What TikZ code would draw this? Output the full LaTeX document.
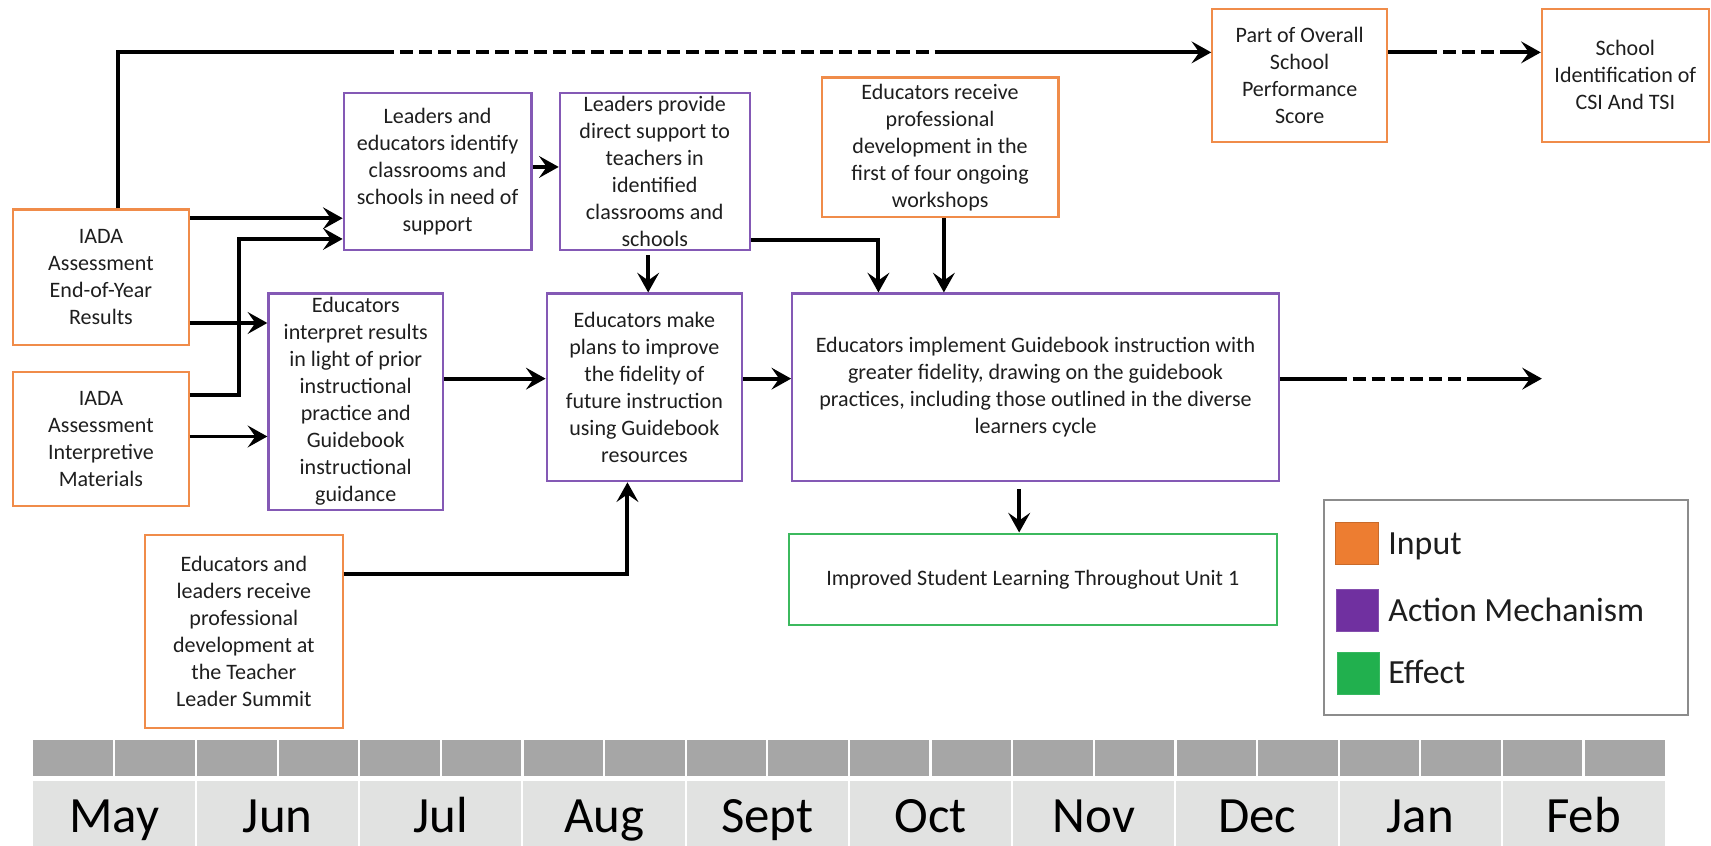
\documentclass[tikz,border=0pt]{standalone}
\usepackage{fontspec}
\setmainfont{Carlito}
\usetikzlibrary{arrows.meta}

\definecolor{inorange}{HTML}{F08C4A}
\definecolor{actpurple}{HTML}{8459B5}
\definecolor{effgreen}{HTML}{3CB95E}
\definecolor{keyorange}{HTML}{ED7D31}
\definecolor{keypurple}{HTML}{7030A0}
\definecolor{keygreen}{HTML}{21B04E}
\definecolor{keyframe}{HTML}{8C8C8C}
\definecolor{barfill}{HTML}{A6A6A6}
\definecolor{monthfill}{HTML}{E1E2E1}
\definecolor{ink}{HTML}{1E1E1E}

\newcommand\boxfont{\fontsize{10.1}{12.35}\selectfont}
\newcommand\keyfont{\fontsize{15.5}{18}\selectfont}
\newcommand\monthfont{\fontsize{23.3}{26}\selectfont}

\begin{document}
\begin{tikzpicture}[
  x=0.5pt, y=-0.5pt,
  sz/.style 2 args={minimum width=#1*0.5pt, minimum height=#2*0.5pt},
  frame/.style={draw, line width=1pt, inner sep=0pt, rectangle},
  inbox/.style={frame, draw=inorange},
  actbox/.style={frame, draw=actpurple},
  effbox/.style={frame, draw=effgreen},
  txt/.style={inner sep=0pt, align=center, font=\boxfont, text=ink},
  ln/.style={line width=1.8pt, draw=black},
  dsh/.style={ln, dash pattern=on 6pt off 2.75pt},
  arr/.style={ln, -{Stealth[length=9pt, width=10pt, inset=3.5pt]}},
  keytxt/.style={anchor=base west, inner sep=0pt, font=\keyfont, text=ink},
  month/.style={anchor=base, inner sep=0pt, font=\monthfont, text=black},
]
\useasboundingbox (0,0) rectangle (1568,775);

% ---------- boxes ----------
\node[inbox, sz={161}{124}] (iada1) at (92.5,254) {};
\node[txt] (iada1-t) at (iada1.center) {IADA\\Assessment\\End-of-Year\\Results};

\node[inbox, sz={161}{123}] (iada2) at (92.5,402.5) {};
\node[txt] (iada2-t) at (iada2.center) {IADA\\Assessment\\Interpretive\\Materials};

\node[actbox, sz={172}{144}] (ident) at (401,157) {};
\node[txt] (ident-t) at (ident.center) {Leaders and\\educators identify\\classrooms and\\schools in need of\\support};

\node[actbox, sz={174}{144}] (support) at (600,157) {};
\node[txt] (support-t) at (support.center) {Leaders provide\\direct support to\\teachers in\\identified\\classrooms and\\schools};

\node[inbox, sz={217}{128}] (pd4) at (861.5,135) {};
\node[txt] (pd4-t) at (pd4.center) {Educators receive\\professional\\development in the\\first of four ongoing\\workshops};

\node[actbox, sz={160}{198}] (interp) at (326,368) {};
\node[txt] (interp-t) at (interp.center) {Educators\\interpret results\\in light of prior\\instructional\\practice and\\Guidebook\\instructional\\guidance};

\node[actbox, sz={179}{172}] (plans) at (590.5,355) {};
\node[txt] (plans-t) at (plans.center) {Educators make\\plans to improve\\the fidelity of\\future instruction\\using Guidebook\\resources};

\node[actbox, sz={446}{172}] (impl) at (949,355) {};
\node[txt] (impl-t) at (impl.center) {Educators implement Guidebook instruction with\\greater fidelity, drawing on the guidebook\\practices, including those outlined in the diverse\\learners cycle};

\node[effbox, sz={447}{84}] (improved) at (946.5,531) {};
\node[txt] (improved-t) at (improved.center) {Improved Student Learning Throughout Unit 1};

\node[inbox, sz={181}{177}] (summit) at (223.5,578.5) {};
\node[txt] (summit-t) at (summit.center) {Educators and\\leaders receive\\professional\\development at\\the Teacher\\Leader Summit};

\node[inbox, sz={160}{122}] (perf) at (1191,69) {};
\node[txt] (perf-t) at (perf.center) {Part of Overall\\School\\Performance\\Score};

\node[inbox, sz={153}{122}] (csi) at (1489.5,69) {};
\node[txt] (csi-t) at (csi.center) {School\\Identification of\\CSI And TSI};

% ---------- routing points ----------
\coordinate (tl) at (108,48);
\coordinate (topA) at (349,48);
\coordinate (topB) at (864,48);
\coordinate (csiA) at (1305,48);
\coordinate (csiB) at (1375,48);
\coordinate (outA) at (1222,347);
\coordinate (outB) at (1347,347);
\coordinate (outEnd) at (1413,347);
\coordinate (jn) at (219,219);
\coordinate (y200) at (0,200);
\coordinate (y362) at (0,362);
\coordinate (y296) at (0,296);
\coordinate (y400) at (0,400);
\coordinate (y153) at (0,153);
\coordinate (y220) at (0,220);
\coordinate (y347) at (0,347);
\coordinate (y526) at (0,526);
\coordinate (x594) at (594,0);
\coordinate (x805) at (805,0);
\coordinate (x865) at (865,0);
\coordinate (x934) at (934,0);
\coordinate (x575) at (575,0);

% ---------- connectors ----------
% results feed the school performance score
\draw[ln] (iada1.north -| tl) -- (tl) -- (topA);
\draw[dsh] (topA) -- (topB);
\draw[arr] (topB) -- (perf.west |- tl);
% score leads to CSI / TSI identification
\draw[ln] (perf.east |- tl) -- (csiA);
\draw[dsh] (csiA) -- (csiB);
\draw[arr] (csiB) -- (csi.west |- tl);

\draw[arr] (iada1.east |- y200) -- (ident.west |- y200);
\draw[arr] (iada2.east |- y362) -| (jn) -- (ident.west |- jn);
\draw[arr] (iada1.east |- y296) -- (interp.west |- y296);
\draw[arr] (iada2.east |- y400) -- (interp.west |- y400);
\draw[arr] (ident.east |- y153) -- (support.west |- y153);
\draw[arr, shorten <=2pt] (support.south -| x594) -- (plans.north -| x594);
\draw[arr] (support.east |- y220) -| (impl.north -| x805);
\draw[arr] (pd4.south -| x865) -- (impl.north -| x865);
\draw[arr] (interp.east |- y347) -- (plans.west |- y347);
\draw[arr] (plans.east |- y347) -- (impl.west |- y347);
\draw[arr, shorten <=3pt] (impl.south -| x934) -- (improved.north -| x934);
\draw[arr] (summit.east |- y526) -| (plans.south -| x575);
% continuation beyond the last box
\draw[ln] (impl.east |- y347) -- (outA);
\draw[dsh] (outA) -- (outB);
\draw[arr] (outB) -- (outEnd);

% ---------- key ----------
\node[frame, draw=keyframe, sz={334}{197}] (key) at (1380,556.5) {};
\node[fill=keyorange, draw=keyorange!85!black, line width=0.4pt, inner sep=0pt, sz={39}{39}] (k-in) at (1243.5,498) {};
\node[fill=keypurple, draw=keypurple!85!white, line width=0.4pt, inner sep=0pt, sz={39}{39}] (k-act) at (1244,559.5) {};
\node[fill=keygreen, draw=keygreen!90!white, line width=0.4pt, inner sep=0pt, sz={39}{39}] (k-eff) at (1245,617) {};
\node[keytxt] (k-in-t) at (1272,508.5) {Input};
\node[keytxt] (k-act-t) at (1272,569.7) {Action Mechanism};
\node[keytxt] (k-eff-t) at (1272,626) {Effect};

% ---------- timeline ----------
\fill[barfill] (30,678) rectangle (1526,711);
\foreach \k in {1,...,19}
  \draw[white, line width=1pt] ({30+74.8*\k},678) -- ({30+74.8*\k},711);
\fill[monthfill] (30,716) rectangle (1526,775);
\foreach \k in {1,...,9}
  \draw[white, line width=0.9pt] ({30+149.6*\k},716) -- ({30+149.6*\k},775);
\foreach \m [count=\i from 0] in {May,Jun,Jul,Aug,Sept,Oct,Nov,Dec,Jan,Feb}
  \node[month] (m\i) at ({30+149.6*(\i+0.5)},763) {\m};
\end{tikzpicture}
\end{document}
